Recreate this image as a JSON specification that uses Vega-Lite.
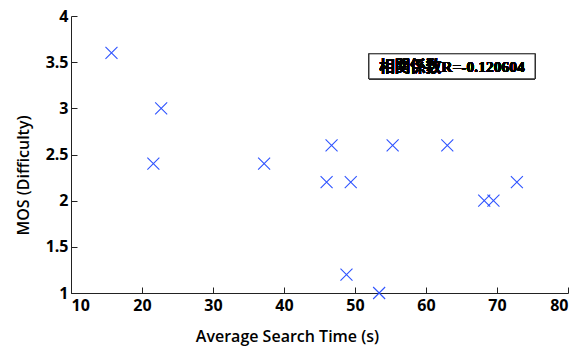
{
  "$schema": "https://vega.github.io/schema/vega-lite/v6.json",
  "width": 497,
  "height": 277,
  "autosize": {"type": "none"},
  "padding": {"left": 71, "top": 16, "right": 10, "bottom": 54},
  "background": "white",
  "config": {
    "view": {"stroke": null},
    "axis": {
      "grid": false,
      "domainColor": "#222222",
      "tickColor": "#222222",
      "labelFont": "Open Sans",
      "titleFont": "Open Sans",
      "labelFontSize": 16,
      "labelFontWeight": "bold",
      "titleFontSize": 16,
      "titleFontWeight": 600,
      "labelColor": "#000000",
      "titleColor": "#000000"
    }
  },
  "data": {
    "values": [
      {"t": 15.7, "mos": 3.6},
      {"t": 22.7, "mos": 3.0},
      {"t": 21.6, "mos": 2.4},
      {"t": 37.2, "mos": 2.4},
      {"t": 46.7, "mos": 2.6},
      {"t": 46.0, "mos": 2.2},
      {"t": 49.4, "mos": 2.2},
      {"t": 48.8, "mos": 1.2},
      {"t": 53.4, "mos": 1.0},
      {"t": 55.3, "mos": 2.6},
      {"t": 63.0, "mos": 2.6},
      {"t": 68.2, "mos": 2.0},
      {"t": 69.5, "mos": 2.0},
      {"t": 72.8, "mos": 2.2}
    ]
  },
  "layer": [
    {
      "mark": {"type": "point", "shape": "M-1,-1L1,1M-1,1L1,-1", "size": 144, "filled": false, "stroke": "#2f54ff", "strokeWidth": 1.1, "opacity": 1},
      "encoding": {
        "x": {"field": "t", "type": "quantitative", "scale": {"domain": [10, 80], "nice": false, "zero": false},
          "axis": {"title": "Average Search Time (s)", "values": [10,20,30,40,50,60,70,80], "format": "~g", "tickSize": -6, "labelPadding": 10, "titleX": 216, "titleY": 35, "titleAlign": "center", "titleBaseline": "top"}},
        "y": {"field": "mos", "type": "quantitative", "scale": {"domain": [1, 4], "nice": false, "zero": false},
          "axis": {"title": "MOS (Difficulty)", "values": [1,1.5,2,2.5,3,3.5,4], "format": "~g", "tickSize": -6, "labelPadding": 9, "titleX": -48, "titleY": 159, "titleAlign": "center", "titleBaseline": "middle", "titleAngle": -90}}
      }
    },
    {
      "mark": {"type": "rect", "fill": "white", "stroke": "#333333", "strokeWidth": 1},
      "encoding": {
        "x": {"datum": 51.97, "type": "quantitative"},
        "x2": {"datum": 75.35},
        "y": {"datum": 3.59, "type": "quantitative"},
        "y2": {"datum": 3.32}
      }
    },
    {
      "mark": {"type": "text", "text": "相関係数R=-0.120604", "font": "Liberation Serif, Noto Sans CJK JP", "fontSize": 15.5, "fontWeight": "bold", "color": "#000000", "align": "center", "baseline": "middle"},
      "encoding": {
        "x": {"datum": 63.66, "type": "quantitative"},
        "y": {"datum": 3.45, "type": "quantitative"}
      }
    }
  ]
}
